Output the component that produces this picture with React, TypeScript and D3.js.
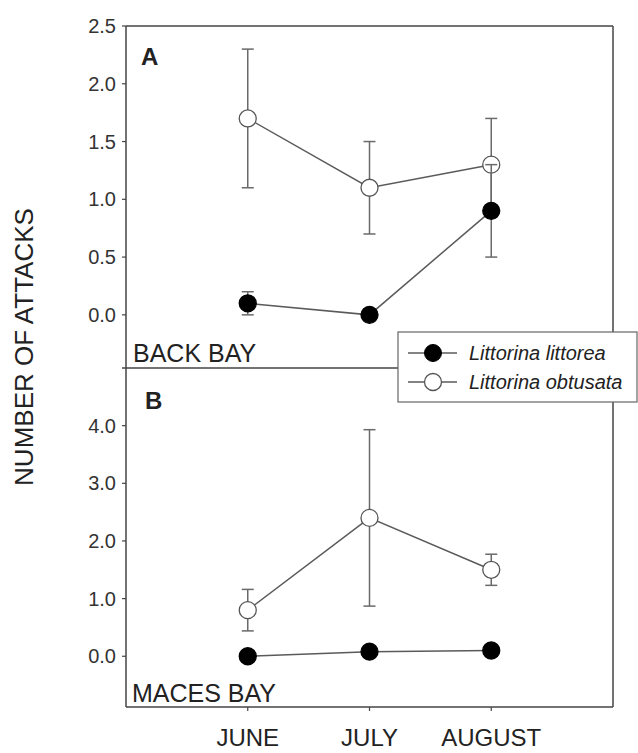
import React from "react";
import * as d3 from "d3";

const months = ["JUNE", "JULY", "AUGUST"];

// Panel A (Back Bay)
const aLittoreaMean = [0.1, 0.0, 0.9];
const aLittoreaLo = [0.0, 0.0, 0.5];
const aLittoreaHi = [0.2, 0.0, 1.3];
const aObtusataMean = [1.7, 1.1, 1.3];
const aObtusataLo = [1.1, 0.7, 0.9];
const aObtusataHi = [2.3, 1.5, 1.7];
const aTicks = [0.0, 0.5, 1.0, 1.5, 2.0, 2.5];

// Panel B (Maces Bay)
const bLittoreaMean = [0.0, 0.08, 0.1];
const bLittoreaLo = [0.0, 0.08, 0.1];
const bLittoreaHi = [0.0, 0.08, 0.1];
const bObtusataMean = [0.8, 2.4, 1.5];
const bObtusataLo = [0.44, 0.87, 1.23];
const bObtusataHi = [1.16, 3.93, 1.77];
const bTicks = [0.0, 1.0, 2.0, 3.0, 4.0];

const FONT = "'Liberation Sans', Arial, sans-serif";
const LINE = "#5a5a5a";
const AXIS = "#444";

export default function App() {
  const left = 126, right = 613, top = 26, mid = 368, bottom = 707;
  const x = d3.scaleLinear().domain([-1, 3]).range([left, right]);
  const yA = d3.scaleLinear().domain([-0.46, 2.5]).range([mid, top]);
  const yB = d3.scaleLinear().domain([-0.88, 5.0]).range([bottom, mid]);
  const lineGen = (y: d3.ScaleLinear<number, number>) =>
    d3.line<number>().x((_, i) => x(i)).y((d) => y(d));

  const series = (
    y: d3.ScaleLinear<number, number>,
    mean: number[],
    lo: number[],
    hi: number[],
    filled: boolean,
    key: string
  ) => (
    <g key={key}>
      {mean.map((m, i) =>
        hi[i] - lo[i] > 0.001 ? (
          <g key={"e" + i} stroke="#6a6a6a" strokeWidth={1.5}>
            <line x1={x(i)} x2={x(i)} y1={y(lo[i])} y2={y(hi[i])} />
            <line x1={x(i) - 6} x2={x(i) + 6} y1={y(lo[i])} y2={y(lo[i])} />
            <line x1={x(i) - 6} x2={x(i) + 6} y1={y(hi[i])} y2={y(hi[i])} />
          </g>
        ) : null
      )}
      <path d={lineGen(y)(mean) || ""} fill="none" stroke={LINE} strokeWidth={1.5} />
      {mean.map((m, i) => (
        <circle
          key={"c" + i}
          cx={x(i)}
          cy={y(m)}
          r={8.5}
          fill={filled ? "#000" : "#fff"}
          stroke={filled ? "#000" : "#555"}
          strokeWidth={1.3}
        />
      ))}
    </g>
  );

  return (
    <svg
      width={638}
      height={753}
      style={{ position: "absolute", left: 0, top: 0, background: "#fff" }}
      fontFamily={FONT}
    >
      <rect x={0} y={0} width={638} height={753} fill="#fff" />
      {/* frame */}
      <g stroke={AXIS} strokeWidth={1.5} fill="none">
        <line x1={left} x2={right} y1={top} y2={top} />
        <line x1={right} x2={right} y1={top} y2={bottom} />
        <line x1={left} x2={right} y1={bottom} y2={bottom} />
        <line x1={left} x2={left} y1={top} y2={bottom} />
        <line x1={left - 4} x2={right} y1={mid} y2={mid} />
      </g>
      {/* Panel A ticks */}
      {aTicks.map((t) => (
        <g key={"ta" + t}>
          <line x1={left - 4} x2={left} y1={yA(t)} y2={yA(t)} stroke={AXIS} strokeWidth={1.2} />
          <text x={left - 10} y={yA(t)} dy="0.35em" textAnchor="end" fontSize={20} fill="#333">
            {t.toFixed(1)}
          </text>
        </g>
      ))}
      {/* Panel B ticks */}
      {bTicks.map((t) => (
        <g key={"tb" + t}>
          <line x1={left - 4} x2={left} y1={yB(t)} y2={yB(t)} stroke={AXIS} strokeWidth={1.2} />
          <text x={left - 10} y={yB(t)} dy="0.35em" textAnchor="end" fontSize={20} fill="#333">
            {t.toFixed(1)}
          </text>
        </g>
      ))}
      {/* X ticks and labels */}
      {months.map((m, i) => (
        <g key={m}>
          <line x1={x(i)} x2={x(i)} y1={bottom} y2={bottom + 4} stroke={AXIS} strokeWidth={1.2} />
          <text x={x(i)} y={746} textAnchor="middle" fontSize={24} fill="#222">
            {m}
          </text>
        </g>
      ))}
      {/* Axis label */}
      <text
        transform="translate(33,347) rotate(-90)"
        textAnchor="middle"
        fontSize={26}
        fill="#222"
      >
        NUMBER OF ATTACKS
      </text>
      {/* Panel labels */}
      <text x={141} y={65} fontSize={24} fontWeight="bold" fill="#222">A</text>
      <text x={145} y={409} fontSize={24} fontWeight="bold" fill="#222">B</text>
      <text x={133} y={362} fontSize={25} fill="#222">BACK BAY</text>
      <text x={132} y={702} fontSize={25} fill="#222">MACES BAY</text>

      {series(yA, aObtusataMean, aObtusataLo, aObtusataHi, false, "ao")}
      {series(yA, aLittoreaMean, aLittoreaLo, aLittoreaHi, true, "al")}
      {series(yB, bObtusataMean, bObtusataLo, bObtusataHi, false, "bo")}
      {series(yB, bLittoreaMean, bLittoreaLo, bLittoreaHi, true, "bl")}

      {/* Legend */}
      <g>
        <rect x={398} y={332} width={239} height={70} fill="#fff" stroke="#666" strokeWidth={1.2} />
        <line x1={408} x2={457} y1={353} y2={353} stroke={LINE} strokeWidth={1.5} />
        <circle cx={433} cy={353} r={8.5} fill="#000" stroke="#000" />
        <text x={469} y={353} dy="0.35em" fontSize={20} fontStyle="italic" fill="#222">
          Littorina littorea
        </text>
        <line x1={408} x2={457} y1={382} y2={382} stroke={LINE} strokeWidth={1.5} />
        <circle cx={433} cy={382} r={8.5} fill="#fff" stroke="#555" strokeWidth={1.3} />
        <text x={469} y={382} dy="0.35em" fontSize={20} fontStyle="italic" fill="#222">
          Littorina obtusata
        </text>
      </g>
    </svg>
  );
}
